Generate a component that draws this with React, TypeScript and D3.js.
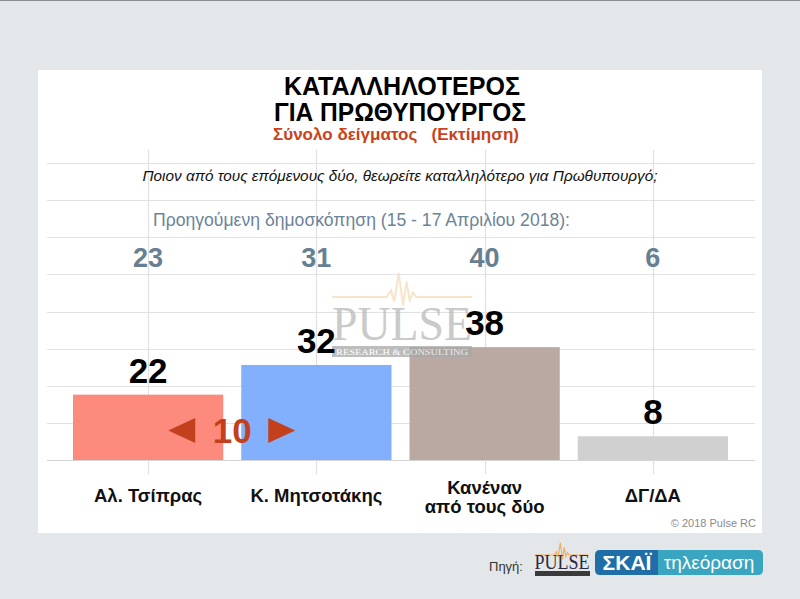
import React from "react";
import * as d3 from "d3";

const categories = ["Αλ. Τσίπρας", "Κ. Μητσοτάκης", "Κανέναν|από τους δύο", "ΔΓ/ΔΑ"];
const currentValues = [22, 32, 38, 8];
const previousValues = [23, 31, 40, 6];
const barColors = ["#fd8b7d", "#82b0fd", "#baa9a3", "#d0d0d0"];
const gridTicks = [0, 12.5, 25, 37.5, 50, 62.5, 75, 87.5, 100];
const titleLines = ["ΚΑΤΑΛΛΗΛΟΤΕΡΟΣ", "ΓΙΑ ΠΡΩΘΥΠΟΥΡΓΟΣ"];
const subtitle = "Σύνολο δείγματος\u00A0\u00A0\u00A0(Εκτίμηση)";
const question = "Ποιον από τους επόμενους δύο, θεωρείτε καταλληλότερο για Πρωθυπουργό;";
const previousLabel = "Προηγούμενη δημοσκόπηση (15 - 17 Απριλίου 2018):";
const gapValue = 10;

const W = 800;
const H = 599;

export default function App() {
  const x = d3
    .scaleBand<string>()
    .domain(categories)
    .range([64, 737])
    .paddingInner(0.107)
    .paddingOuter(0.0535);
  const y = d3.scaleLinear().domain([0, 100]).range([460, 163]);
  const font = "Liberation Sans, Arial, Helvetica, sans-serif";
  const cx = (c: string) => (x(c) as number) + x.bandwidth() / 2;
  const gapX = (cx(categories[0]) + cx(categories[1])) / 2;
  const red = "#c2401c";

  const pulseLine = (x0: number, x1: number, yb: number, s: number) => {
    const m = (x0 + x1) / 2;
    return `M${x0},${yb} L${m - 14 * s},${yb} L${m - 10 * s},${yb - 6 * s} L${m - 7 * s},${yb + 4 * s} L${m - 3 * s},${yb - 22 * s} L${m + 1 * s},${yb + 8 * s} L${m + 4 * s},${yb - 14 * s} L${m + 7 * s},${yb + 3 * s} L${m + 10 * s},${yb - 4 * s} L${m + 13 * s},${yb} L${x1},${yb}`;
  };

  return (
    <svg
      width={W}
      height={H}
      style={{ position: "absolute", left: 0, top: 0, display: "block" }}
      fontFamily={font}
    >
      <rect x={0} y={0} width={W} height={H} fill="#e4e7ea" />
      <rect x={0} y={0} width={W} height={1} fill="#8a8d90" />
      <rect x={38} y={70} width={724} height={463} fill="#ffffff" />

      {/* grid */}
      {gridTicks.map((t) => (
        <line
          key={t}
          x1={47}
          x2={755}
          y1={Math.round(y(t)) + 0.5}
          y2={Math.round(y(t)) + 0.5}
          stroke={t === 0 ? "#d4d4d4" : "#e2e2e2"}
          strokeWidth={1.2}
        />
      ))}
      {categories.map((c) => (
        <line
          key={c}
          x1={Math.round(cx(c)) + 0.5}
          x2={Math.round(cx(c)) + 0.5}
          y1={150}
          y2={474}
          stroke="#e0e0e0"
          strokeWidth={1.2}
        />
      ))}

      {/* titles */}
      <text x={402} y={95} textAnchor="middle" fontSize={26.5} fontWeight="bold" fill="#000"
        textLength={236} lengthAdjust="spacingAndGlyphs">
        {titleLines[0]}
      </text>
      <text x={400} y={121} textAnchor="middle" fontSize={26.5} fontWeight="bold" fill="#000"
        textLength={252} lengthAdjust="spacingAndGlyphs">
        {titleLines[1]}
      </text>
      <text x={396} y={140} textAnchor="middle" fontSize={17} fontWeight="bold" fill="#c8431b"
        textLength={246} lengthAdjust="spacingAndGlyphs">
        {subtitle}
      </text>
      <text x={400} y={181} textAnchor="middle" fontSize={15} fontStyle="italic" fill="#111"
        textLength={515} lengthAdjust="spacingAndGlyphs">
        {question}
      </text>
      <text x={153} y={226} fontSize={17.5} fill="#6b8498"
        textLength={417} lengthAdjust="spacingAndGlyphs">
        {previousLabel}
      </text>

      {/* previous values */}
      {categories.map((c, i) => (
        <text
          key={c}
          x={cx(c)}
          y={267}
          textAnchor="middle"
          fontSize={27}
          fontWeight="bold"
          fill="#667f91"
        >
          {previousValues[i]}
        </text>
      ))}

      {/* bars */}
      {categories.map((c, i) => (
        <rect
          key={c}
          x={x(c)}
          y={y(currentValues[i])}
          width={x.bandwidth()}
          height={y(0) - y(currentValues[i])}
          fill={barColors[i]}
        />
      ))}

      {/* watermark */}
      <g opacity={0.75}>
        <path d={pulseLine(332, 472, 297, 1.1)} fill="none" stroke="#f6dcb8" strokeWidth={2} />
        <text
          x={402}
          y={340}
          textAnchor="middle"
          fontSize={48}
          fontFamily="Liberation Serif, Times New Roman, serif"
          fill="#b9b9b9"
          textLength={140}
          lengthAdjust="spacingAndGlyphs"
        >
          PULSE
        </text>
        <rect x={332} y={346} width={140} height={11} fill="#a8a8a8" />
        <text
          x={402}
          y={355}
          textAnchor="middle"
          fontSize={9}
          fontFamily="Liberation Serif, Times New Roman, serif"
          fill="#ffffff"
          textLength={132}
          lengthAdjust="spacingAndGlyphs"
        >
          RESEARCH &amp; CONSULTING
        </text>
      </g>

      {/* current values */}
      {categories.map((c, i) => (
        <text
          key={c}
          x={cx(c)}
          y={y(currentValues[i]) - 12}
          textAnchor="middle"
          fontSize={35}
          fontWeight="bold"
          fill="#000"
        >
          {currentValues[i]}
        </text>
      ))}

      {/* gap indicator */}
      <path d={`M${gapX - 64},430.5 L${gapX - 37},418 L${gapX - 37},443 Z`} fill={red} />
      <path d={`M${gapX + 63},430.5 L${gapX + 36},418 L${gapX + 36},443 Z`} fill={red} />
      <text x={gapX} y={443} textAnchor="middle" fontSize={35} fontWeight="bold" fill={red}>
        {gapValue}
      </text>

      {/* category labels */}
      {categories.map((c) => {
        const parts = c.split("|");
        const y0 = parts.length === 1 ? 502 : 494;
        return (
          <text key={c} x={cx(c)} textAnchor="middle" fontSize={18.5} fontWeight="bold" fill="#111">
            {parts.map((p, j) => (
              <tspan key={j} x={cx(c)} y={y0 + j * 19}>
                {p}
              </tspan>
            ))}
          </text>
        );
      })}

      <text x={756} y={527} textAnchor="end" fontSize={11} fill="#8a8a8a">
        © 2018 Pulse RC
      </text>

      {/* footer */}
      <text x={489} y={571} fontSize={13} fill="#333">
        Πηγή:
      </text>
      <path d={pulseLine(535, 589, 555, 0.55)} fill="none" stroke="#f0b060" strokeWidth={1.2} />
      <text
        x={562}
        y={569}
        textAnchor="middle"
        fontSize={22}
        fontFamily="Liberation Serif, Times New Roman, serif"
        fill="#2a2a3a"
        textLength={55}
        lengthAdjust="spacingAndGlyphs"
      >
        PULSE
      </text>
      <rect x={535} y={571} width={55} height={5} fill="#3a3a3a" />
      <path
        d="M600,550 L658,550 L658,575 L600,575 Q595,575 595,570 L595,555 Q595,550 600,550 Z"
        fill="#1f6ea8"
      />
      <path
        d="M658,550 L758,550 Q763,550 763,555 L763,570 Q763,575 758,575 L658,575 Z"
        fill="#39a5c0"
      />
      <text x={627} y={570} textAnchor="middle" fontSize={21} fontWeight="bold" fill="#fff">
        ΣΚΑΪ
      </text>
      <text x={709} y={569} textAnchor="middle" fontSize={19} fill="#fff">
        τηλεόραση
      </text>
    </svg>
  );
}
